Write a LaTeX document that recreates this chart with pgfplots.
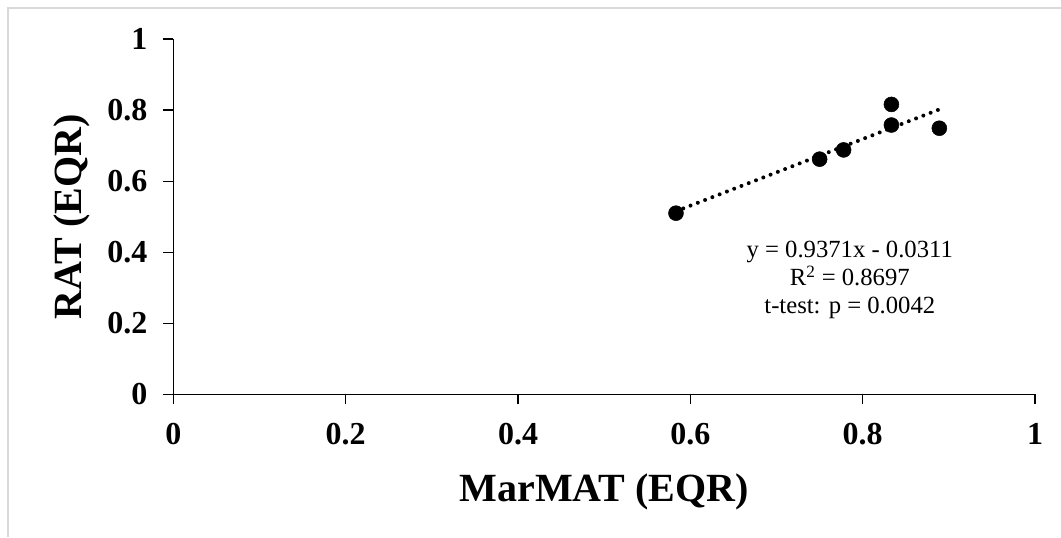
\documentclass[border=0pt]{standalone}
\usepackage{pgfplots}
\pgfplotsset{compat=1.18}
\usepackage{fontspec}
\setmainfont{Liberation Serif}

\pgfplotstableread{
x       y
0.5833  0.510
0.7500  0.662
0.7778  0.688
0.8333  0.816
0.8333  0.758
0.8889  0.749
}\ratdata

% linear fit y = 0.9371x - 0.0311 over the observed range
\pgfplotstableread{
x       y
0.5833  0.5155
0.8889  0.8019
}\fitline

\definecolor{framegray}{HTML}{D9D9D9}

\begin{document}
\begin{tikzpicture}
\useasboundingbox (0,0) rectangle (795.75pt,402.75pt);
% chart area frame
\draw[framegray, line width=1.2pt] (6pt,0pt) -- (6pt,396.75pt) -- (795.75pt,396.75pt);
\begin{axis}[
  at={(130pt,106.9pt)}, anchor=south west,
  scale only axis,
  width=646.3pt, height=266.6pt,
  xmin=0, xmax=1, ymin=0, ymax=1,
  axis lines*=left,
  axis line style={line width=1pt, -},
  tick style={line width=1pt, black},
  tick align=outside,
  major tick length=7.5pt,
  xtick={0,0.2,0.4,0.6,0.8,1},
  ytick={0,0.2,0.4,0.6,0.8,1},
  /pgf/number format/assume math mode=true,
  ticklabel style={font=\fontsize{24}{28}\selectfont\bfseries},
  xticklabel style={anchor=base, yshift=-30pt},
  yticklabel style={anchor=east, xshift=-8.5pt},
  xlabel={MarMAT (EQR)},
  ylabel={RAT (EQR)},
  label style={font=\fontsize{30}{36}\selectfont\bfseries},
  xlabel style={at={(axis description cs:0.5,0)}, anchor=base, yshift=-80.4pt},
  ylabel style={at={(axis description cs:0,0.5)}, anchor=base, yshift=68.7pt},
  clip=false,
]
\addplot[only marks, mark=*, mark size=5.6pt, black] table[x=x,y=y] {\ratdata};
\addplot[black, line width=3pt, line cap=round, dash pattern=on 0pt off 5.85pt] table[x=x,y=y] {\fitline};
\node[align=center, font=\fontsize{18.5}{21}\selectfont] at (axis cs:0.785,0.322)
  {y = 0.9371x - 0.0311\\R\textsuperscript{2} = 0.8697\\t-test: p = 0.0042};
\end{axis}
\end{tikzpicture}
\end{document}
